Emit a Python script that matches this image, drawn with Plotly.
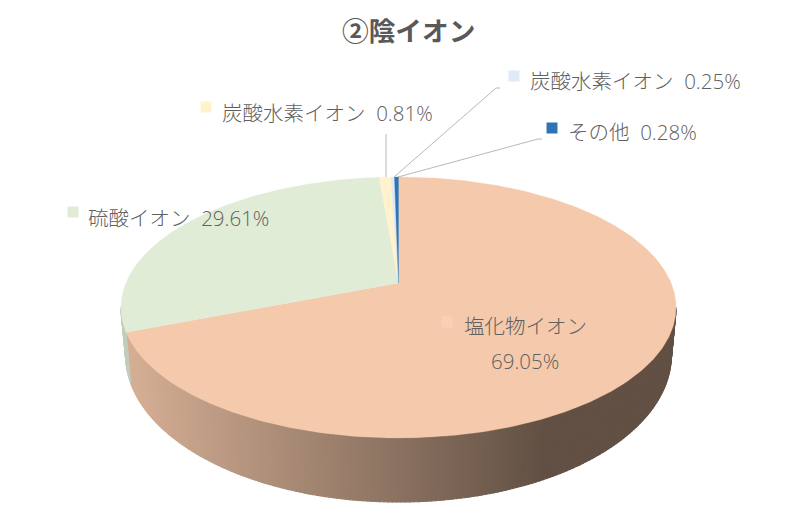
import numpy as np
import plotly.graph_objects as go

# data
names = ["塩化物イオン", "硫酸イオン", "炭酸水素イオン", "炭酸水素イオン", "その他"]
values = [69.05, 29.61, 0.81, 0.25, 0.28]
colors = ["#F5C9AB", "#E0ECD6", "#FFF2CC", "#DEEAF6", "#2E75B6"]
key_colors = ["#F7D0B6", "#E0ECD6", "#FFF2CC", "#DEEAF6", "#2E75B6"]

# label layout, pixels: key x, key y, text x, text y
key_x = [447, 73, 206, 514, 552]
key_y = [322, 212, 107, 76, 128]
text_x = [464, 86, 220, 528, 566]
text_y = [326, 218, 113, 81, 132]

# leader lines
leaders = [
    ([386, 386], [177, 134]),
    ([394, 496, 500], [177, 88, 88]),
    ([398, 538, 542], [177, 139, 139]),
]

# 3d pie projection, top face and bottom face
CX, K = 398.5, 0.1877
CY, A, B = 283, 272.6, 125.9
CY2, A2, B2 = 327.4, 268, 141.8
# side wall is only visible between the two silhouette angles
WALL_FROM, WALL_TO = 100.8, 259.2


def project(deg, bottom=False):
    a = np.radians(deg)
    u, v = np.sin(a), np.cos(a)
    w = 1 + K * v
    if bottom:
        return CX + A2 * u / w, CY2 - B2 * v / w
    return CX + A * u / w, CY - B * v / w


def shade(hex_col, x):
    # side wall light goes from left to right, flat after x=545
    f = np.interp(x, [130, 545], [0.87, 0.40])
    rgb = [int(hex_col[i:i + 2], 16) for i in (1, 3, 5)]
    return "rgb({},{},{})".format(*[int(c * f) for c in rgb])


fig = go.Figure()

edges = np.cumsum([0] + values) * 3.6

# side walls
for i, col in enumerate(colors):
    start, end = max(edges[i], WALL_FROM), min(edges[i + 1], WALL_TO)
    if start >= end:
        continue
    steps = np.arange(start, end, 0.75).tolist() + [end]
    for a0, a1 in zip(steps[:-1], steps[1:]):
        x0, y0 = project(a0)
        x1, y1 = project(a1)
        x2, y2 = project(a1, bottom=True)
        x3, y3 = project(a0, bottom=True)
        c = shade(col, (x0 + x1) / 2)
        fig.add_trace(go.Scatter(
            x=[x0, x1, x2, x3, x0], y=[y0, y1, y2, y3, y0],
            mode="lines", fill="toself", fillcolor=c,
            line=dict(color=c, width=1.2), hoverinfo="skip", showlegend=False
        ))

# top face
for i, col in enumerate(colors):
    ang = np.linspace(edges[i], edges[i + 1], max(3, int(values[i] * 6)))
    xs, ys = project(ang)
    fig.add_trace(go.Scatter(
        x=[CX] + xs.tolist() + [CX], y=[CY] + ys.tolist() + [CY],
        mode="lines", fill="toself", fillcolor=col,
        line=dict(color=col, width=0.3), hoverinfo="skip", showlegend=False
    ))

for lx, ly in leaders:
    fig.add_trace(go.Scatter(
        x=lx, y=ly, mode="lines", line=dict(color="#A6A6A6", width=0.8),
        hoverinfo="skip", showlegend=False
    ))

# legend keys
fig.add_trace(go.Scatter(
    x=key_x, y=key_y, mode="markers",
    marker=dict(symbol="square", size=11, color=key_colors),
    hoverinfo="skip", showlegend=False
))

# labels
TXT = dict(family="Open Sans, Noto Sans CJK JP", size=20.5, color="#606060", weight=300)
pcts = [f"{v:.2f}%" for v in values]
for i in range(1, 5):
    fig.add_annotation(x=text_x[i], y=text_y[i], text=f"{names[i]}\u00a0\u00a0{pcts[i]}",
                       xanchor="left", yanchor="middle", showarrow=False, font=TXT)
fig.add_annotation(x=525, y=text_y[0], text=names[0], xanchor="center",
                   yanchor="middle", showarrow=False, font=TXT)
fig.add_annotation(x=525, y=361, text=pcts[0], xanchor="center",
                   yanchor="middle", showarrow=False, font=TXT)

fig.add_annotation(x=408, y=29, text="<b>②陰イオン</b>", xanchor="center", yanchor="middle",
                   showarrow=False,
                   font=dict(family="Noto Sans CJK JP", size=26.7, color="#595959"))

fig.update_layout(
    width=791, height=521,
    margin=dict(l=0, r=0, t=0, b=0),
    paper_bgcolor="white", plot_bgcolor="white",
    xaxis=dict(range=[0, 791], visible=False, fixedrange=True),
    yaxis=dict(range=[521, 0], visible=False, fixedrange=True),
)

fig.write_html("out.html", post_script="document.body.style.margin='0';",
               config=dict(displayModeBar=False))
